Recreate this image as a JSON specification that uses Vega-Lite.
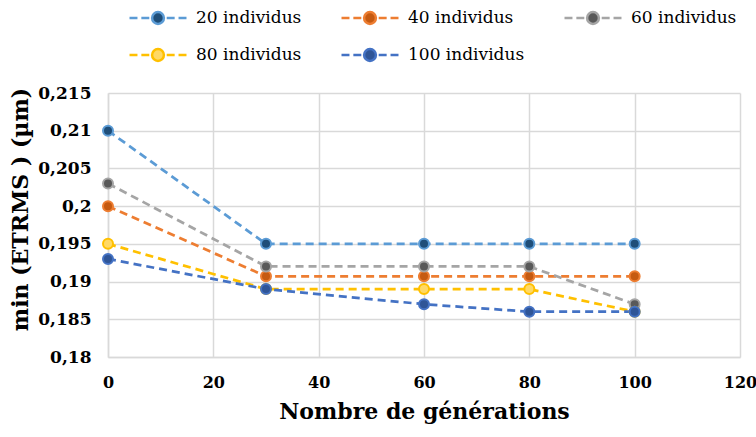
{
  "$schema": "https://vega.github.io/schema/vega-lite/v6.json",
  "width": 632,
  "height": 264,
  "autosize": "none",
  "padding": {"left": 108, "top": 93, "right": 16, "bottom": 80},
  "background": "white",
  "config": {
    "locale": {"number": {"decimal": ",", "thousands": " ", "grouping": [3], "currency": ["", " €"]}},
    "font": "DejaVu Serif",
    "view": {"stroke": null},
    "style": {
      "guide-label": {"font": "DejaVu Serif", "fill": "#000000"},
      "guide-title": {"font": "DejaVu Serif", "fill": "#000000"}
    },
    "legend": {"labelFont": "DejaVu Serif"},
    "axis": {
      "gridColor": "#D9D9D9",
      "gridWidth": 1.5,
      "domainColor": "#D9D9D9",
      "domainWidth": 1.5,
      "ticks": false,
      "labelFlush": false,
      "labelFont": "DejaVu Serif",
      "labelColor": "#000000",
      "titleColor": "#000000"
    }
  },
  "data": {
    "values": [
      {"series": "20 individus", "gen": 0, "val": 0.21},
      {"series": "20 individus", "gen": 30, "val": 0.195},
      {"series": "20 individus", "gen": 60, "val": 0.195},
      {"series": "20 individus", "gen": 80, "val": 0.195},
      {"series": "20 individus", "gen": 100, "val": 0.195},
      {"series": "40 individus", "gen": 0, "val": 0.2},
      {"series": "40 individus", "gen": 30, "val": 0.1907},
      {"series": "40 individus", "gen": 60, "val": 0.1907},
      {"series": "40 individus", "gen": 80, "val": 0.1907},
      {"series": "40 individus", "gen": 100, "val": 0.1907},
      {"series": "60 individus", "gen": 0, "val": 0.203},
      {"series": "60 individus", "gen": 30, "val": 0.192},
      {"series": "60 individus", "gen": 60, "val": 0.192},
      {"series": "60 individus", "gen": 80, "val": 0.192},
      {"series": "60 individus", "gen": 100, "val": 0.187},
      {"series": "80 individus", "gen": 0, "val": 0.195},
      {"series": "80 individus", "gen": 30, "val": 0.189},
      {"series": "80 individus", "gen": 60, "val": 0.189},
      {"series": "80 individus", "gen": 80, "val": 0.189},
      {"series": "80 individus", "gen": 100, "val": 0.186},
      {"series": "100 individus", "gen": 0, "val": 0.193},
      {"series": "100 individus", "gen": 30, "val": 0.189},
      {"series": "100 individus", "gen": 60, "val": 0.187},
      {"series": "100 individus", "gen": 80, "val": 0.186},
      {"series": "100 individus", "gen": 100, "val": 0.186}
    ]
  },
  "encoding": {
    "x": {
      "field": "gen", "type": "quantitative",
      "scale": {"domain": [0, 120], "nice": false, "zero": false},
      "axis": {"values": [0, 20, 40, 60, 80, 100, 120], "title": "Nombre de générations", "labelPadding": 17, "labelFlush": false,
        "labelFont": "DejaVu Serif", "labelFontSize": 16, "labelFontWeight": "bold",
        "titleFont": "DejaVu Serif", "titleFontSize": 22, "titleFontWeight": "bold", "titlePadding": 11}
    },
    "y": {
      "field": "val", "type": "quantitative",
      "scale": {"domain": [0.18, 0.215], "nice": false, "zero": false},
      "axis": {"values": [0.18, 0.185, 0.19, 0.195, 0.2, 0.205, 0.21, 0.215], "format": ".3~f", "title": "min (ETRMS ) (µm)", "labelPadding": 17, "labelFlush": false,
        "labelFont": "DejaVu Serif", "labelFontSize": 17, "labelFontWeight": "bold",
        "titleFont": "DejaVu Serif", "titleFontSize": 22, "titleFontWeight": "bold", "titleX": -88, "titleY": 116, "titleBaseline": "middle"}
    }
  },
  "layer": [
    {
      "mark": {"type": "line", "strokeDash": [8, 5], "strokeWidth": 2.75},
      "encoding": {
        "stroke": {
          "field": "series", "type": "nominal",
          "scale": {"domain": ["20 individus", "40 individus", "60 individus", "80 individus", "100 individus"], "range": ["#5B9BD5", "#ED7D31", "#A5A5A5", "#FFC000", "#4472C4"]},
          "legend": {
            "title": null, "orient": "none", "legendX": 30, "legendY": -95, "direction": "horizontal", "columns": 3,
            "columnPadding": 34, "rowPadding": 6, "padding": 0,
            "symbolType": "M-1.54,0H-1.11M-0.9,0H-0.47M0.47,0H0.9M1.11,0H1.54M-0.32,0A0.32,0.32 0 1,1 0.32,0A0.32,0.32 0 1,1 -0.32,0Z",
            "symbolSize": 1369, "symbolStrokeWidth": 2.5, "labelOffset": 18,
            "labelFont": "DejaVu Serif", "labelFontSize": 17, "labelColor": "#000000", "labelLimit": 300
          }
        }
      }
    },
    {
      "mark": {"type": "circle", "size": 100, "strokeWidth": 2, "opacity": 1},
      "encoding": {
        "stroke": {"field": "series", "type": "nominal"},
        "fill": {
          "field": "series", "type": "nominal",
          "scale": {"domain": ["20 individus", "40 individus", "60 individus", "80 individus", "100 individus"], "range": ["#1F4E79", "#C55A11", "#595959", "#FFD966", "#2F5597"]},
          "legend": {
            "title": null, "orient": "none", "legendX": 30, "legendY": -95, "direction": "horizontal", "columns": 3,
            "columnPadding": 34, "rowPadding": 6, "padding": 0,
            "symbolType": "M-1.54,0H-1.11M-0.9,0H-0.47M0.47,0H0.9M1.11,0H1.54M-0.32,0A0.32,0.32 0 1,1 0.32,0A0.32,0.32 0 1,1 -0.32,0Z",
            "symbolSize": 1369, "symbolStrokeWidth": 2.5, "labelOffset": 18,
            "labelFont": "DejaVu Serif", "labelFontSize": 17, "labelColor": "#000000", "labelLimit": 300
          }
        }
      }
    }
  ]
}
